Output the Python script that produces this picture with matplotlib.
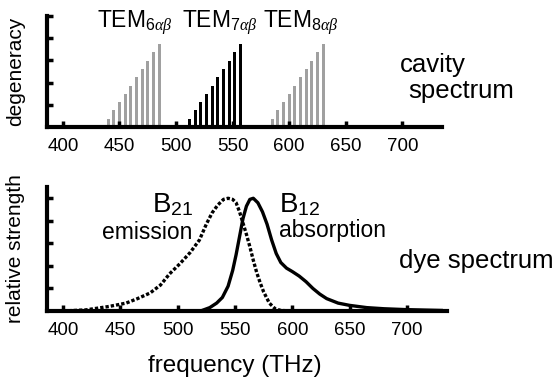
import matplotlib
matplotlib.use("Agg")
import matplotlib.pyplot as plt

plt.rcParams['font.family'] = ['Liberation Sans', 'DejaVu Sans']
plt.rcParams['mathtext.fontset'] = 'custom'
plt.rcParams['mathtext.rm'] = 'Liberation Sans'
plt.rcParams['mathtext.it'] = 'Liberation Serif:italic'

# cavity modes (THz) and their degeneracy
tem6_freq = [440, 445, 450, 455, 460, 465, 470, 475, 480, 485]
tem7_freq = [512, 517, 522, 527, 532, 537, 542, 547, 552, 557]
tem8_freq = [585, 590, 595, 600, 605, 610, 615, 620, 625, 630]
degeneracy = [1, 2, 3, 4, 5, 6, 7, 8, 9, 10]

# dye spectra, normalised to peak
em_freq = [400, 420, 440, 455, 465, 476, 485, 493, 502, 511, 519, 525, 530, 535,
           540, 544, 548, 551, 554, 557, 560, 563, 566, 569, 572, 575, 580, 585, 590, 600]
em_val = [0.0, 0.01, 0.04, 0.07, 0.11, 0.16, 0.23, 0.33, 0.42, 0.52, 0.63, 0.77,
          0.87, 0.94, 0.99, 1.0, 0.99, 0.96, 0.88, 0.78, 0.68, 0.57, 0.45, 0.34,
          0.25, 0.17, 0.07, 0.02, 0.005, 0.0]
ab_freq = [520, 528, 534, 539, 544, 548, 551, 554, 557, 560, 563, 566, 570, 574,
           578, 582, 586, 590, 595, 600, 606, 612, 618, 624, 630, 640, 650, 665,
           680, 700, 730]
ab_val = [0.0, 0.03, 0.07, 0.12, 0.22, 0.36, 0.50, 0.66, 0.82, 0.93, 0.99, 1.0,
          0.96, 0.88, 0.77, 0.63, 0.51, 0.43, 0.38, 0.35, 0.31, 0.26, 0.20, 0.15,
          0.11, 0.07, 0.05, 0.03, 0.02, 0.012, 0.005]

xticks = [400, 450, 500, 550, 600, 650, 700]

W, H = 556, 385
fig = plt.figure(figsize=(W / 100, H / 100), dpi=100)

def px(x, y):
    return x / W, 1 - y / H

def style(ax):
    for s in ['top', 'right']:
        ax.spines[s].set_visible(False)
    for s in ['left', 'bottom']:
        ax.spines[s].set_linewidth(3)
    ax.tick_params(direction='in', length=4, width=2.5, labelsize=13.5, pad=8)
    ax.set_xticks(xticks)
    ax.set_xlim(386, 735)

# cavity spectrum
ax1 = fig.add_axes([47 / W, 1 - 127 / H, (442 - 47) / W, (127 - 16) / H])
style(ax1)
ax1.bar(tem6_freq, degeneracy, width=2.6, color='#a0a0a0')
ax1.bar(tem7_freq, degeneracy, width=2.6, color='black')
ax1.bar(tem8_freq, degeneracy, width=2.6, color='#a0a0a0')
ax1.set_ylim(0, 13.4)
ax1.set_yticks([2.68, 5.36, 8.04, 10.72, 13.4])
ax1.set_yticklabels([])
ax1.set_ylabel('degeneracy', fontsize=15, labelpad=8)
for f0, lab in [(430, '6'), (505, '7'), (577, '8')]:
    ax1.text(f0, 12.0, r'TEM$_{' + lab + r'\alpha\beta}$', fontsize=16.5, ha='left', va='baseline')
fig.text(*px(400, 72), 'cavity', fontsize=18.5, va='baseline')
fig.text(*px(408, 98), 'spectrum', fontsize=18.5, va='baseline')

# dye spectrum
ax2 = fig.add_axes([47 / W, 1 - 311 / H, (447 - 47) / W, (311 - 187) / H])
style(ax2)
ax2.plot(em_freq, em_val, color='black', lw=2.4, ls=(0, (1, 0.6)))
ax2.plot(ab_freq, ab_val, color='black', lw=2.4)
ax2.set_ylim(0, 1.1)
ax2.set_yticks([0.2, 0.4, 0.6, 0.8, 1.0])
ax2.set_yticklabels([])
ax2.set_ylabel('relative strength', fontsize=15, labelpad=8)
fig.text(*px(148, 372), 'frequency (THz)', fontsize=17.5, va='baseline')

fig.text(*px(152, 212), r'B$_{21}$', fontsize=20, va='baseline')
fig.text(*px(102, 239), 'emission', fontsize=16.5, va='baseline')
fig.text(*px(279, 212), r'B$_{12}$', fontsize=20, va='baseline')
fig.text(*px(279, 237), 'absorption', fontsize=16.5, va='baseline')
fig.text(*px(399, 268), 'dye spectrum', fontsize=18.5, va='baseline')

fig.savefig('out.png', dpi=100)
